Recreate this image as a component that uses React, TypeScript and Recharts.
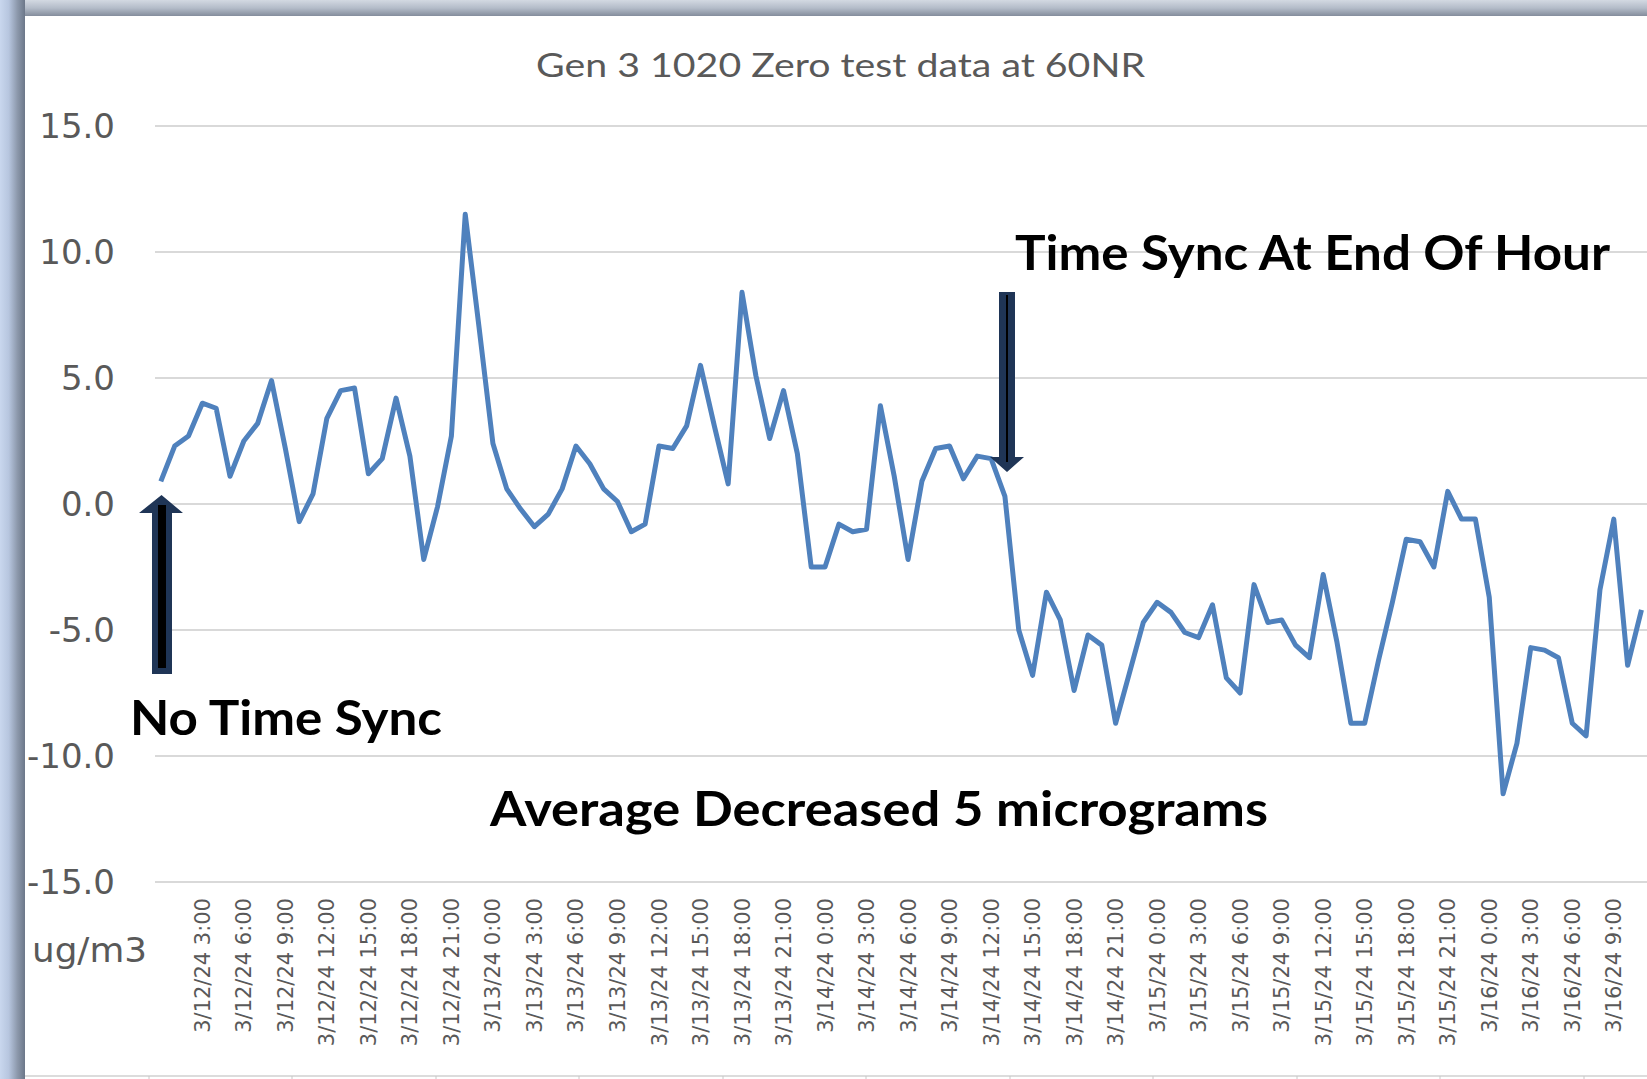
import React from 'react'
import { LineChart, Line, XAxis, YAxis, CartesianGrid } from 'recharts'

// hourly zero readings, 3/12/24 0:00 onward (ug/m3)
const readings = [
  0.9, 2.3, 2.7, 4.0, 3.8, 1.1, 2.5, 3.2, 4.9, 2.2,
  -0.7, 0.4, 3.4, 4.5, 4.6, 1.2, 1.8, 4.2, 1.9, -2.2,
  -0.1, 2.7, 11.5, 7.0, 2.4, 0.6, -0.2, -0.9, -0.4, 0.6,
  2.3, 1.6, 0.6, 0.1, -1.1, -0.8, 2.3, 2.2, 3.1, 5.5,
  3.1, 0.8, 8.4, 5.1, 2.6, 4.5, 2.0, -2.5, -2.5, -0.8,
  -1.1, -1.0, 3.9, 1.1, -2.2, 0.9, 2.2, 2.3, 1.0, 1.9,
  1.8, 0.3, -5.0, -6.8, -3.5, -4.6, -7.4, -5.2, -5.6, -8.7,
  -6.7, -4.7, -3.9, -4.3, -5.1, -5.3, -4.0, -6.9, -7.5, -3.2,
  -4.7, -4.6, -5.6, -6.1, -2.8, -5.5, -8.7, -8.7, -6.2, -3.9,
  -1.4, -1.5, -2.5, 0.5, -0.6, -0.6, -3.7, -11.5, -9.5, -5.7,
  -5.8, -6.1, -8.7, -9.2, -3.4, -0.6, -6.4, -4.2,
]

const tickLabels = [
  '3/12/24 3:00', '3/12/24 6:00', '3/12/24 9:00', '3/12/24 12:00', '3/12/24 15:00', '3/12/24 18:00', '3/12/24 21:00',
  '3/13/24 0:00', '3/13/24 3:00', '3/13/24 6:00', '3/13/24 9:00', '3/13/24 12:00', '3/13/24 15:00', '3/13/24 18:00', '3/13/24 21:00',
  '3/14/24 0:00', '3/14/24 3:00', '3/14/24 6:00', '3/14/24 9:00', '3/14/24 12:00', '3/14/24 15:00', '3/14/24 18:00', '3/14/24 21:00',
  '3/15/24 0:00', '3/15/24 3:00', '3/15/24 6:00', '3/15/24 9:00', '3/15/24 12:00', '3/15/24 15:00', '3/15/24 18:00', '3/15/24 21:00',
  '3/16/24 0:00', '3/16/24 3:00', '3/16/24 6:00', '3/16/24 9:00',
]
// every third hour gets a label, starting at 3:00
const tickHours = tickLabels.map((_, k) => 3 + k * 3)

const yTicks = [-15, -10, -5, 0, 5, 10, 15]

const chartData = readings.map((value, hour) => ({ hour, value }))

const W = 1647
const H = 1079

const XTick = (props: any) => {
  const { x, y, payload } = props
  const label = tickLabels[tickHours.indexOf(payload.value)]
  return (
    <text
      x={x}
      y={y + 16}
      transform={`rotate(-90, ${x}, ${y + 16})`}
      textAnchor="end"
      dy="0.36em"
      fill="#595959"
      fontSize={21}
      fontFamily="DejaVu Sans"
    >
      {label}
    </text>
  )
}

const Annotations = () => (
  <svg width={W} height={H} style={{ position: 'absolute', left: 0, top: 0, pointerEvents: 'none' }}>
    <text x={536} y={77} fontFamily="Lato" fontSize={33} fill="#595959" textLength={609} lengthAdjust="spacingAndGlyphs">
      Gen 3 1020 Zero test data at 60NR
    </text>
    <text x={32} y={962} fontFamily="DejaVu Sans" fontSize={34} fill="#595959" textLength={115} lengthAdjust="spacingAndGlyphs">
      ug/m3
    </text>

    <g fontFamily="Lato" fontWeight={700} fontSize={47} fill="#000">
      <text x={1015} y={270} textLength={595} lengthAdjust="spacingAndGlyphs">Time Sync At End Of Hour</text>
      <text x={130} y={735} textLength={312} lengthAdjust="spacingAndGlyphs">No Time Sync</text>
      <text x={490} y={826} textLength={778} lengthAdjust="spacingAndGlyphs">Average Decreased 5 micrograms</text>
    </g>

    {/* up arrow */}
    <polygon points="152,674 172,674 172,513 183,513 161.5,495 139,513 152,513" fill="#1f3556" />
    <line x1={162} y1={505} x2={162} y2={668} stroke="#000" strokeWidth={8} />
    {/* down arrow */}
    <polygon points="999,292 1015,292 1015,457 1024,457 1007,472 990,457 999,457" fill="#1f3556" />
    <line x1={1007} y1={295} x2={1007} y2={462} stroke="#000" strokeWidth={2} />

    {/* bottom ruler strip */}
    <line x1={25} y1={1076} x2={W} y2={1076} stroke="#d0d0d0" strokeWidth={1.5} />
    {[149, 292, 436, 579, 723, 866, 1010, 1153, 1297, 1440, 1584].map((tx) => (
      <line key={tx} x1={tx} y1={1076} x2={tx} y2={1079} stroke="#c8c8c8" strokeWidth={1} />
    ))}
  </svg>
)

export default function App() {
  return (
    <div style={{ position: 'absolute', left: 0, top: 0, width: W, height: H, overflow: 'hidden', background: '#fff' }}>
      <LineChart width={W} height={H} data={chartData} margin={{ top: 126, right: 0, bottom: 0, left: 0 }}>
        <CartesianGrid vertical={false} stroke="#d9d9d9" strokeWidth={2} />
        <XAxis
          dataKey="hour"
          type="number"
          domain={[-0.42, 107.4]}
          allowDataOverflow
          ticks={tickHours}
          interval={0}
          height={197}
          axisLine={false}
          tickLine={false}
          tickSize={0}
          tickMargin={0}
          tick={(p: any) => <XTick {...p} />}
        />
        <YAxis
          domain={[-15, 15]}
          ticks={yTicks}
          interval={0}
          width={155}
          axisLine={false}
          tickLine={false}
          tickSize={0}
          tickMargin={40}
          tickFormatter={(v: number) => v.toFixed(1)}
          tick={{ fill: '#595959', fontSize: 34, fontFamily: 'DejaVu Sans' }}
        />
        <Line
          type="linear"
          dataKey="value"
          stroke="#4f81bd"
          strokeWidth={5}
          strokeLinejoin="round"
          dot={false}
          isAnimationActive={false}
        />
      </LineChart>
      <Annotations />
      {/* window frame edges */}
      <div
        style={{
          position: 'absolute', left: 0, top: 0, width: W, height: 16,
          background: 'linear-gradient(to bottom, #d3d9e2 0%, #b4bcc9 50%, #848d9c 100%)',
        }}
      />
      <div
        style={{
          position: 'absolute', left: 0, top: 0, width: 25, height: H,
          background: 'linear-gradient(to right, #c9d7ee 0%, #b7c6df 35%, #8c98ab 70%, #6c7789 100%)',
        }}
      />
    </div>
  )
}
